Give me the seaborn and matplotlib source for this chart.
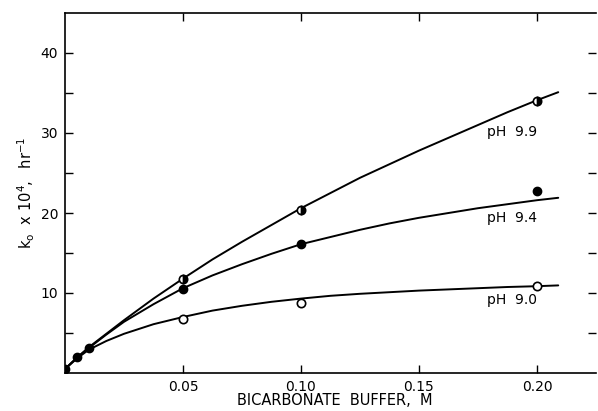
import matplotlib
matplotlib.use("Agg")
import matplotlib.pyplot as plt
import seaborn as sns
import pandas as pd
import numpy as np

# Measured points
x_low = [0.0, 0.005, 0.01]
y_low = [0.5, 2.0, 3.1]

x_pts = [0.05, 0.10, 0.20]
y_ph99 = [11.8, 20.4, 34.0]
y_ph94 = [10.5, 16.1, 22.8]
y_ph90 = [6.8, 8.75, 10.9]

# Smooth fitted curves
x_curve = [0.0, 0.005, 0.01, 0.0175, 0.025, 0.0375, 0.05, 0.0625, 0.075, 0.0875,
           0.10, 0.1125, 0.125, 0.1375, 0.15, 0.1625, 0.175, 0.1875, 0.20, 0.209]
c_ph99 = [0.5, 1.9, 3.2, 4.9, 6.6, 9.3, 11.8, 14.2, 16.4, 18.5,
          20.6, 22.5, 24.4, 26.1, 27.8, 29.4, 31.0, 32.6, 34.1, 35.1]
c_ph94 = [0.5, 1.9, 3.1, 4.8, 6.4, 8.6, 10.6, 12.2, 13.6, 14.9,
          16.1, 17.0, 17.9, 18.7, 19.4, 20.0, 20.6, 21.1, 21.6, 21.9]
c_ph90 = [0.5, 1.8, 2.9, 4.0, 4.9, 6.1, 7.0, 7.8, 8.4, 8.9,
          9.3, 9.65, 9.9, 10.1, 10.3, 10.45, 10.6, 10.75, 10.85, 10.95]

series_labels = ["pH 9.9", "pH 9.4", "pH 9.0"]
label_x = [0.179, 0.179, 0.179]
label_y = [30.1, 19.4, 9.1]

x_ticks = [0.05, 0.10, 0.15, 0.20]
x_ticklabels = ["0.05", "0.10", "0.15", "0.20"]
y_ticks = [10, 20, 30, 40]
y_minor = [5, 15, 25, 35]

sns.set_style("ticks")
plt.rcParams['font.family'] = ['DejaVu Sans']
plt.rcParams['text.color'] = 'black'
plt.rcParams['axes.labelcolor'] = 'black'
plt.rcParams['xtick.color'] = 'black'
plt.rcParams['ytick.color'] = 'black'

fig = plt.figure(figsize=(5.98, 4.11), dpi=100)
ax = fig.add_axes([65/598, 1 - 373/411, 531/598, 360/411])

df = pd.DataFrame({
    "x": x_curve * 3,
    "y": c_ph99 + c_ph94 + c_ph90,
    "s": [series_labels[0]] * len(x_curve) + [series_labels[1]] * len(x_curve) + [series_labels[2]] * len(x_curve),
})
sns.lineplot(data=df, x="x", y="y", units="s", estimator=None, color="black",
             linewidth=1.4, ax=ax, legend=False, sort=False)

ms = 6
ax.plot(x_low, y_low, 'o', color='black', ms=ms, mec='black', zorder=3)
ax.plot(x_pts, y_ph99, 'o', ms=ms, mfc='black', mec='black', mew=1.2,
        fillstyle='right', markerfacecoloralt='white', zorder=3)
ax.plot(x_pts, y_ph94, 'o', ms=ms, mfc='black', mec='black', zorder=3)
ax.plot(x_pts, y_ph90, 'o', ms=ms, mfc='white', mec='black', mew=1.2, zorder=3)

for lab, lx, ly in zip(series_labels, label_x, label_y):
    ax.text(lx, ly, lab.replace(" ", "  "), fontsize=10, va='center', ha='left')

ax.set_xlim(0, 0.225)
ax.set_ylim(0, 45)
ax.set_xticks(x_ticks)
ax.set_xticklabels(x_ticklabels, fontsize=10)
ax.set_yticks(y_ticks)
ax.set_yticklabels([str(t) for t in y_ticks], fontsize=10)
ax.set_yticks(y_minor, minor=True)
ax.tick_params(which='both', direction='in', top=True, right=True, length=6,
               width=1, color='black', pad=5)
for sp in ['left', 'bottom', 'top']:
    ax.spines[sp].set_linewidth(1.2)
    ax.spines[sp].set_color('black')
ax.spines['right'].set_visible(False)

ax.set_xlabel("BICARBONATE  BUFFER,  M", fontsize=10.5)
ax.xaxis.set_label_coords(0.508, -0.075)
ax.xaxis.label.set_va('center')
ax.set_ylabel(r"$\mathregular{k_o\ \ x\ 10^4,\ \ hr^{-1}}$", fontsize=10.5)
ax.yaxis.set_label_coords(-0.072, 0.5)
ax.yaxis.label.set_va('center')

fig.savefig("out.png", dpi=100)
